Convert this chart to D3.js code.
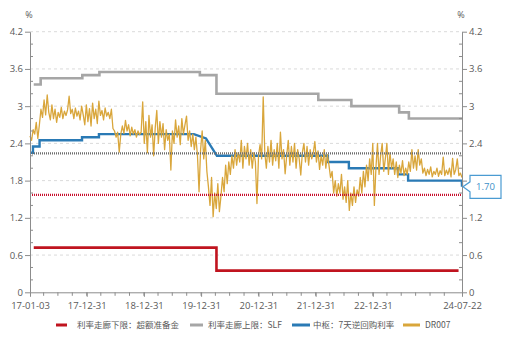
<!DOCTYPE html>
<html>
<head>
<meta charset="utf-8">
<script src="https://cdn.jsdelivr.net/npm/d3@7/dist/d3.min.js"></script>
<style>
  html, body { margin: 0; padding: 0; background: #fff; }
  svg { display: block; }
  text { font-family: "Open Sans", "Noto Sans CJK SC", sans-serif; fill: #595959; }
</style>
</head>
<body>
<svg id="chart" width="507" height="337"></svg>
<script>
// ---- data ----
const startDate = "2017-01-03";
const endDate = "2024-07-22";

const yTicks = [0, 0.6, 1.2, 1.8, 2.4, 3, 3.6, 4.2];
const xTickLabels = ["2017-01-03", "2017-12-31", "2018-12-31", "2019-12-31", "2020-12-31", "2021-12-31", "2022-12-31", "2024-07-22"];

// 利率走廊下限：超额准备金利率
const floorDates = ["2017-01-27", "2020-04-07", "2020-04-07", "2024-06-30"];
const floorValues = [0.72, 0.72, 0.35, 0.35];

// 利率走廊上限：SLF
const slfDates = ["2017-01-27", "2017-03-12", "2017-03-12", "2017-12-03", "2017-12-03", "2018-03-22", "2018-03-22",
  "2019-12-23", "2019-12-23", "2020-04-07", "2020-04-07", "2022-01-17", "2022-01-17", "2022-08-16", "2022-08-16",
  "2023-06-17", "2023-06-17", "2023-08-18", "2023-08-18", "2024-07-22"];
const slfValues = [3.35, 3.35, 3.45, 3.45, 3.50, 3.50, 3.55,
  3.55, 3.50, 3.50, 3.20, 3.20, 3.10, 3.10, 3.00,
  3.00, 2.90, 2.90, 2.80, 2.80];

// 中枢：7天逆回购利率
const repoDates = ["2017-01-03", "2017-01-22", "2017-01-22", "2017-03-05", "2017-03-05", "2017-12-01", "2017-12-01",
  "2018-03-19", "2018-03-19", "2019-11-15", "2020-01-31", "2020-04-10", "2022-03-19", "2022-03-19",
  "2022-07-31", "2022-07-31", "2023-06-10", "2023-06-10", "2023-08-13", "2023-08-13", "2024-07-21", "2024-07-22"];
const repoValues = [2.25, 2.25, 2.35, 2.35, 2.45, 2.45, 2.50,
  2.50, 2.55, 2.55, 2.48, 2.20, 2.20, 2.10,
  2.10, 2.00, 2.00, 1.90, 1.90, 1.80, 1.80, 1.70];

// DR007, sampled at even intervals from startDate to endDate
const dr007 = [
  2.52, 2.45, 2.62, 2.55, 2.74, 2.48, 2.70, 2.95, 2.82, 3.10,
  2.86, 3.18, 2.90, 2.78, 3.02, 2.80, 2.95, 2.74, 2.90, 2.82,
  2.98, 2.80, 2.92, 2.85, 2.94, 3.16, 2.88, 2.95, 2.80, 2.97,
  2.84, 2.92, 2.78, 3.00, 2.86, 2.70, 3.02, 2.75, 2.96, 2.68,
  3.05, 2.80, 2.95, 2.72, 3.08, 2.85, 2.93, 2.78, 2.97, 2.84,
  2.90, 2.80, 2.95, 2.64, 2.60, 2.50, 2.58, 2.26, 2.55, 2.68,
  2.56, 2.77, 2.60, 2.70, 2.52, 2.66, 2.55, 2.62, 2.50, 2.60,
  2.54, 2.58, 3.07, 2.40, 2.75, 2.25, 2.85, 2.50, 2.70, 2.20,
  2.65, 2.93, 2.40, 2.75, 2.50, 2.72, 2.30, 2.62, 2.45, 2.55,
  1.97, 2.60, 2.40, 2.78, 2.50, 2.68, 2.38, 2.80, 2.55, 2.70,
  2.84, 2.45, 2.60, 2.35, 2.55, 2.30, 2.50, 2.20, 1.62, 2.30,
  2.60, 2.15, 2.45, 1.95, 1.70, 1.40, 1.85, 1.22, 1.60, 1.35,
  1.75, 1.30, 1.55, 1.85, 1.62, 2.05, 1.75, 2.10, 1.90, 2.20,
  2.00, 2.30, 2.05, 2.25, 2.10, 2.45, 2.00, 2.35, 2.15, 2.40,
  2.05, 2.30, 2.00, 2.25, 2.10, 1.43, 2.20, 2.38, 2.15, 3.15,
  2.25, 2.00, 2.35, 2.10, 2.45, 2.05, 2.30, 2.12, 2.40, 2.00,
  2.58, 2.15, 2.30, 1.91, 2.20, 2.45, 2.05, 2.35, 2.10, 2.40,
  2.00, 2.30, 2.15, 1.89, 2.25, 2.40, 2.10, 2.35, 2.05, 2.30,
  2.15, 2.25, 2.43, 2.10, 2.28, 1.98, 2.20, 2.05, 2.30, 2.00,
  2.22, 2.05, 1.85, 1.95, 1.60, 1.80, 1.55, 1.75, 1.60, 1.90,
  1.50, 1.70, 1.45, 1.80, 1.32, 1.60, 1.40, 1.70, 1.45, 1.65,
  1.55, 1.85, 1.60, 1.95, 1.70, 2.05, 1.80, 2.15, 1.90, 2.40,
  1.40, 2.00, 2.40, 1.90, 2.20, 2.40, 1.95, 2.15, 2.40, 1.90,
  2.25, 2.00, 2.15, 1.90, 2.10, 1.85, 2.05, 1.92, 2.12, 1.88,
  2.00, 1.90, 2.10, 1.95, 2.30, 2.00, 2.20, 1.97, 2.30, 2.05,
  2.15, 1.92, 2.00, 1.88, 1.98, 1.90, 2.02, 1.86, 1.95, 1.90,
  2.00, 1.87, 1.96, 1.90, 2.18, 1.88, 1.97, 1.90, 2.00, 1.86,
  2.16, 1.90, 1.98, 2.15, 1.88, 1.92, 1.85
];

// reference levels drawn as dotted lines
const upperRef = 2.24;
const lowerRef = 1.57;
const calloutValue = 1.70;

const legendItems = [
  { name: "利率走廊下限：超额准备金", color: "#c0141f" },
  { name: "利率走廊上限：SLF", color: "#a6a6a6" },
  { name: "中枢：7天逆回购利率", color: "#2a7ab5" },
  { name: "DR007", color: "#d9a63b" }
];

// ---- setup ----
const parse = d3.timeParse("%Y-%m-%d");
const fmtTick = d3.timeFormat("%y-%m-%d");
const svg = d3.select("#chart");

const plotL = 30, plotR = 462, plotT = 31.7, plotB = 292.3;
const x = d3.scaleTime().domain([parse(startDate), parse(endDate)]).range([plotL, plotR]);
const y = d3.scaleLinear().domain([0, 4.2]).range([plotB, plotT]);

const axisColor = "#8c8c8c";

// grid
svg.append("g").selectAll("line")
  .data(yTicks.filter(d => d > 0))
  .join("line")
  .attr("x1", plotL).attr("x2", plotR)
  .attr("y1", d => y(d)).attr("y2", d => y(d))
  .attr("stroke", "#dadada").attr("stroke-width", 1)
  .attr("stroke-dasharray", "3,3");

// series helpers
const toPoints = (dates, values) => dates.map((d, i) => ({ date: parse(d), value: values[i] }));
const line = d3.line().x(d => x(d.date)).y(d => y(d.value));

const floorPts = toPoints(floorDates, floorValues);
const slfPts = toPoints(slfDates, slfValues);
const repoPts = toPoints(repoDates, repoValues);
const t0 = parse(startDate).getTime(), t1 = parse(endDate).getTime();
const drPts = dr007.map((v, i) => ({ date: new Date(t0 + (t1 - t0) * i / (dr007.length - 1)), value: v }));

svg.append("path").datum(floorPts).attr("d", line)
  .attr("fill", "none").attr("stroke", legendItems[0].color).attr("stroke-width", 2.6);
svg.append("path").datum(slfPts).attr("d", line)
  .attr("fill", "none").attr("stroke", legendItems[1].color).attr("stroke-width", 2.6);
svg.append("path").datum(repoPts).attr("d", line)
  .attr("fill", "none").attr("stroke", legendItems[2].color).attr("stroke-width", 2.4);
svg.append("path").datum(drPts).attr("d", line)
  .attr("fill", "none").attr("stroke", legendItems[3].color).attr("stroke-width", 1.3)
  .attr("stroke-linejoin", "round");

// dotted reference lines
[[upperRef, "#6e6e6e"], [lowerRef, "#c8102e"]].forEach(([v, c]) => {
  svg.append("line")
    .attr("x1", plotL).attr("x2", plotR)
    .attr("y1", y(v)).attr("y2", y(v))
    .attr("stroke", c).attr("stroke-width", 2.2)
    .attr("stroke-dasharray", "1,1");
});

// axes
const yFmt = d3.format("~g");
const styleAxis = g => {
  g.select(".domain").attr("stroke", axisColor);
  g.selectAll(".tick line").attr("stroke", axisColor);
  g.selectAll(".tick text").attr("fill", "#595959").style("font-size", "9.5px")
    .style("font-family", "'Open Sans', sans-serif");
};

svg.append("g").attr("transform", `translate(${plotL},0)`)
  .call(d3.axisLeft(y).tickValues(yTicks).tickFormat(yFmt).tickSize(5).tickSizeOuter(0).tickPadding(2))
  .call(styleAxis);
svg.append("g").attr("transform", `translate(${plotR},0)`)
  .call(d3.axisRight(y).tickValues(yTicks).tickFormat(yFmt).tickSize(5).tickSizeOuter(0).tickPadding(2))
  .call(styleAxis);

// minor y ticks every 0.2, pointing into the plot
const minorY = d3.range(0.2, 4.2, 0.2).filter(v => Math.abs(v / 0.6 - Math.round(v / 0.6)) > 0.01);
svg.append("g").selectAll("line").data(minorY).join("line")
  .attr("x1", plotL).attr("x2", plotL + 3)
  .attr("y1", d => y(d)).attr("y2", d => y(d)).attr("stroke", axisColor);
svg.append("g").selectAll("line").data(minorY).join("line")
  .attr("x1", plotR - 3).attr("x2", plotR)
  .attr("y1", d => y(d)).attr("y2", d => y(d)).attr("stroke", axisColor);

// x axis: quarterly minor ticks, labelled major ticks
const quarterEnds = d3.timeMonth.range(parse("2017-04-01"), parse("2024-07-01"), 3).map(d => d3.timeDay.offset(d, -1));
svg.append("g").selectAll("line").data(quarterEnds).join("line")
  .attr("x1", d => x(d)).attr("x2", d => x(d))
  .attr("y1", plotB).attr("y2", plotB + 3.5).attr("stroke", axisColor);
svg.append("g").attr("transform", `translate(0,${plotB})`)
  .call(d3.axisBottom(x).tickValues(xTickLabels.map(parse)).tickFormat(fmtTick).tickSize(4.5).tickSizeOuter(0).tickPadding(5))
  .call(styleAxis);

// unit labels
svg.append("text").attr("x", plotL - 1).attr("y", 18).attr("text-anchor", "middle")
  .style("font-size", "9px").text("%");
svg.append("text").attr("x", plotR - 1).attr("y", 18).attr("text-anchor", "middle")
  .style("font-size", "9px").text("%");

// callout for the current policy rate
const cy = y(calloutValue);
const bx0 = plotR + 8, bx1 = plotR + 39, by0 = cy - 11.5, by1 = cy + 11.5;
svg.append("path")
  .attr("d", `M${plotR + 1},${cy} L${bx0},${cy - 5} L${bx0},${by0} L${bx1},${by0} L${bx1},${by1} L${bx0},${by1} L${bx0},${cy + 5} Z`)
  .attr("fill", "#fff").attr("stroke", "#4a9bd2").attr("stroke-width", 1.2);
svg.append("text").attr("x", (bx0 + bx1) / 2).attr("y", cy + 3.5).attr("text-anchor", "middle")
  .style("font-size", "9.5px").style("fill", "#3d8fc8").text(d3.format(".2f")(calloutValue));

// legend
const legendPos = [
  { sx: 56, sw: 11, tx: 77 },
  { sx: 190, sw: 13, tx: 208 },
  { sx: 292, sw: 18, tx: 313 },
  { sx: 403, sw: 17, tx: 425 }
];
const ly = 325;
const lg = svg.append("g");
legendItems.forEach((it, i) => {
  const p = legendPos[i];
  lg.append("line").attr("x1", p.sx).attr("x2", p.sx + p.sw).attr("y1", ly).attr("y2", ly)
    .attr("stroke", it.color).attr("stroke-width", 3);
  lg.append("text").attr("x", p.tx).attr("y", ly + 3.2)
    .style("font-size", "8.5px").style("font-family", "'Noto Sans CJK SC', sans-serif")
    .text(it.name);
});
</script>
</body>
</html>
